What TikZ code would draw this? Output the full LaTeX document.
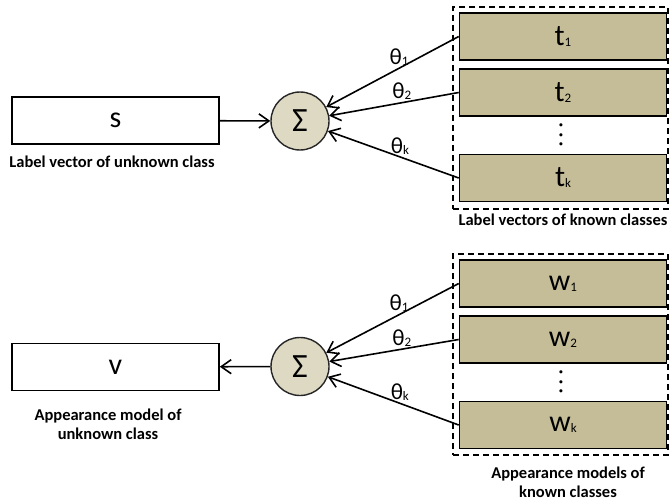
\documentclass[tikz,border=0pt]{standalone}
\usepackage{fontspec}
\setmainfont{Carlito}
\usepackage{tikz}
\usetikzlibrary{arrows.meta,positioning}
\definecolor{tan}{HTML}{C4BD97}
\definecolor{paletan}{HTML}{DDD9C3}
\definecolor{ink}{HTML}{000000}
\newcommand{\low}[1]{\raisebox{-1pt}{\fontsize{13}{13}\selectfont #1}}
\newcommand{\coldots}{\rotatebox{-90}{.\kern4pt.\kern4pt.}}
\tikzset{
  vecbox/.style={draw=ink,line width=1.6pt,minimum width=207pt,minimum height=47pt,
    inner sep=0pt,font=\fontsize{30}{32}\selectfont},
  knownbox/.style={vecbox,fill=tan},
  sumnode/.style={circle,draw=ink!85,fill=paletan,line width=1.4pt,minimum size=58pt,
    inner sep=0pt,font=\fontsize{34}{36}\selectfont},
  fence/.style={draw=ink,line width=1.3pt,dash pattern=on 6pt off 4pt,
    minimum width=215pt,inner sep=0pt},
  boxlabel/.style={font=\fontsize{16.5}{19}\selectfont\bfseries,align=center},
  weight/.style={font=\fontsize{23}{24}\selectfont},
  dotcol/.style={font=\fontsize{21}{22}\selectfont\bfseries,inner sep=0pt},
  arr/.style={-{Straight Barb[length=10pt,width=14pt]},line width=1.6pt,draw=ink},
}
\begin{document}
\begin{tikzpicture}[x=1pt,y=-1pt]
  \useasboundingbox (0,0) rectangle (671,500);
  % label vectors
  \node[fence,minimum height=202pt] (knownT) at (560.5,108) {};
  \node[vecbox] (s) at (115.5,120.5) {s};
  \node[boxlabel] at (112,162) {Label vector of unknown class};
  \node[sumnode] (sumS) at (300,121) {Σ};
  \node[knownbox] (t1) at (563,36.5) {t\low{1}};
  \node[knownbox] (t2) at (563,92.5) {t\low{2}};
  \node[dotcol] (tdots) at (561,135) {\coldots};
  \node[knownbox] (tk) at (563,178) {t\low{k}};
  \node[boxlabel] at (563,220) {Label vectors of known classes};
  \draw[arr] (s) -- (sumS);
  \draw[arr] (t1.west) -- node[weight,above,pos=.45,inner sep=2pt]{θ\low{1}} (sumS);
  \draw[arr] (t2.west) -- node[weight,above,pos=.44,inner sep=2pt]{θ\low{2}} (sumS);
  \draw[arr] (tk.west) -- node[weight,above,pos=.45,inner sep=2pt]{θ\low{k}} (sumS);
  % appearance models
  \node[fence,minimum height=201pt] (knownW) at (560.5,354.5) {};
  \node[vecbox] (v) at (115.5,367) {v};
  \node[boxlabel] at (108,424) {Appearance model of\\unknown class};
  \node[sumnode] (sumV) at (300,366.5) {Σ};
  \node[knownbox] (w1) at (563,283.5) {w\low{1}};
  \node[knownbox] (w2) at (563,339.5) {w\low{2}};
  \node[dotcol] (wdots) at (561,382) {\coldots};
  \node[knownbox] (wk) at (563,425) {w\low{k}};
  \node[boxlabel] at (568,482) {Appearance models of\\known classes};
  \draw[arr] (sumV) -- (v);
  \draw[arr] (w1.west) -- node[weight,above,pos=.45,inner sep=2pt]{θ\low{1}} (sumV);
  \draw[arr] (w2.west) -- node[weight,above,pos=.44,inner sep=2pt]{θ\low{2}} (sumV);
  \draw[arr] (wk.west) -- node[weight,above,pos=.45,inner sep=2pt]{θ\low{k}} (sumV);
\end{tikzpicture}
\end{document}
